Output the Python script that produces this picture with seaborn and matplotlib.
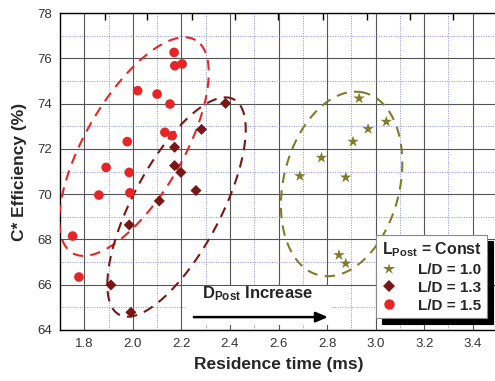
import numpy as np
import pandas as pd
import matplotlib
matplotlib.use("Agg")
import matplotlib.pyplot as plt
import seaborn as sns
from matplotlib.ticker import MultipleLocator
from matplotlib.lines import Line2D
from matplotlib.patches import Rectangle

# ---------------- data ----------------
ld10_x = [2.932, 3.044, 2.969, 2.907, 2.777, 2.688, 2.877, 2.849, 2.877]
ld10_y = [74.23, 73.20, 72.88, 72.32, 71.61, 70.80, 70.74, 67.31, 66.94]

ld13_x = [2.382, 2.283, 2.172, 2.172, 2.198, 2.260, 2.109, 1.985, 1.910, 1.992]
ld13_y = [74.01, 72.86, 72.07, 71.26, 70.96, 70.16, 69.70, 68.64, 65.99, 64.78]

ld15_x = [2.170, 2.173, 2.203, 2.020, 2.100, 2.153, 2.132, 2.162, 1.977, 1.890,
          1.985, 1.860, 1.988, 1.752, 1.778]
ld15_y = [76.26, 75.67, 75.75, 74.57, 74.42, 73.98, 72.73, 72.58, 72.32, 71.18,
          70.96, 69.96, 70.06, 68.15, 66.34]

labels = ["L/D = 1.0", "L/D = 1.3", "L/D = 1.5"]
colors = ["#7d7d2a", "#7a1616", "#e62626"]
markers = ["*", "D", "o"]
sizes = [75, 32, 48]

x_ticks = [1.8, 2.0, 2.2, 2.4, 2.6, 2.8, 3.0, 3.2, 3.4]
y_ticks = [64, 66, 68, 70, 72, 74, 76, 78]
top_ticks = [1.885, 2.058, 2.243, 2.420, 2.597, 2.782, 2.963, 3.140, 3.317]

# ellipse groups: (center x, center y, semi-major px, semi-minor px, angle deg)
ellipses = [
    (2.005, 72.10, 123, 49, 60, colors[2]),
    (2.180, 69.43, 122, 44, 62, colors[1]),
    (2.860, 70.45, 94, 58, 76, colors[0]),
]

# ---------------- style ----------------
sns.set_style("white")
plt.rcParams["font.family"] = ["Liberation Sans", "DejaVu Sans"]
plt.rcParams["mathtext.fontset"] = "custom"
plt.rcParams["mathtext.rm"] = "Liberation Sans"
plt.rcParams["mathtext.bf"] = "Liberation Sans:bold"
plt.rcParams["mathtext.it"] = "Liberation Sans:italic"

df = pd.DataFrame({
    "x": ld10_x + ld13_x + ld15_x,
    "y": ld10_y + ld13_y + ld15_y,
    "grp": [labels[0]] * len(ld10_x) + [labels[1]] * len(ld13_x) + [labels[2]] * len(ld15_x),
})

W, H = 495, 381
fig = plt.figure(figsize=(W / 100, H / 100), dpi=100)
ax = fig.add_axes([60 / W, (H - 330) / H, 437 / W, 317 / H])
ax.set_xlim(1.7, 3.5)
ax.set_ylim(64, 78)

for lab, c, m, s in zip(labels, colors, markers, sizes):
    sub = df[df["grp"] == lab]
    sns.scatterplot(data=sub, x="x", y="y", color=c, marker=m, s=s,
                    edgecolor="none", linewidth=0, ax=ax, zorder=5, legend=False)

ax.set_xlim(1.7, 3.5)
ax.set_ylim(64, 78)

# grids
ax.xaxis.set_minor_locator(MultipleLocator(0.1))
ax.yaxis.set_minor_locator(MultipleLocator(1))
ax.set_xticks(x_ticks)
ax.set_yticks(y_ticks)
ax.set_xticklabels([f"{v:.1f}" for v in x_ticks])
ax.set_yticklabels([str(v) for v in y_ticks])
ax.grid(which="major", color="#555555", linewidth=0.8, linestyle="-")
ax.grid(which="minor", color="#8c8ce0", linewidth=0.7, linestyle=(0, (1, 1.5)))
ax.set_axisbelow(True)
ax.tick_params(axis="both", which="major", direction="in", length=7, width=0.9,
               labelsize=9.5, labelcolor="#333333", color="black", pad=6)
ax.tick_params(axis="both", which="minor", direction="in", length=3.5, width=0.8, color="black")
ax.tick_params(axis="y", which="both", length=0)
for sp in ax.spines.values():
    sp.set_color("black")
    sp.set_linewidth(1.0)

# secondary tick marks along the top spine
sec = ax.secondary_xaxis("top")
sec.set_xticks(top_ticks)
sec.tick_params(direction="in", length=5, width=1.0, labeltop=False, color="black")
sec.spines["top"].set_visible(False)

ax.set_xlabel("Residence time (ms)", fontsize=12.5, fontweight="bold", labelpad=5)
ax.set_ylabel("C* Efficiency (%)", fontsize=12.5, fontweight="bold", labelpad=7)

# dashed ellipses (defined in pixel space around a data centre)
t = np.linspace(0, 2 * np.pi, 400)
for cx, cy, a, b, ang, col in ellipses:
    c0 = ax.transData.transform((cx, cy))
    th = np.deg2rad(ang)
    ex = a * np.cos(t)
    ey = b * np.sin(t)
    px = c0[0] + ex * np.cos(th) - ey * np.sin(th)
    py = c0[1] + ex * np.sin(th) + ey * np.cos(th)
    pts = ax.transData.inverted().transform(np.column_stack([px, py]))
    ax.plot(pts[:, 0], pts[:, 1], color=col, linewidth=1.5,
            linestyle=(0, (5, 3.5)), zorder=4)

# white box behind the annotation
ax.add_patch(Rectangle((2.215, 64.2), 0.60, 1.75, facecolor="white",
                       edgecolor="none", zorder=2))
ax.text(2.283, 65.41, r"$\mathbf{D}_{\mathbf{Post}}$ Increase", fontsize=12,
        fontweight="bold", zorder=6)
ax.annotate("", xy=(2.815, 64.57), xytext=(2.24, 64.57),
            arrowprops=dict(arrowstyle="-|>,head_length=0.7,head_width=0.3",
                            color="black", lw=1.8), zorder=6)

# legend
handles = [Line2D([], [], linestyle="none", marker=m, color=c, markersize=ms,
                  markeredgewidth=0)
           for m, c, ms in zip(markers, colors, [9, 6, 7.5])]
leg = ax.legend(handles, labels, loc="lower right", bbox_to_anchor=(0.977, 0.038),
                title=r"$\mathbf{L}_{\mathbf{Post}}$ = Const",
                prop={"weight": "bold", "size": 11},
                title_fontproperties={"weight": "bold", "size": 11.5},
                frameon=True, fancybox=False, framealpha=1, edgecolor="#888888",
                shadow={"color": "black", "alpha": 1.0, "ox": 4, "oy": -4},
                handlelength=1.0, handletextpad=1.4, borderpad=0.35,
                labelspacing=0.25, borderaxespad=0)
leg.get_frame().set_linewidth(0.8)
leg.set_zorder(10)
leg._legend_box.align = "right"

fig.savefig("out.png", dpi=100)
